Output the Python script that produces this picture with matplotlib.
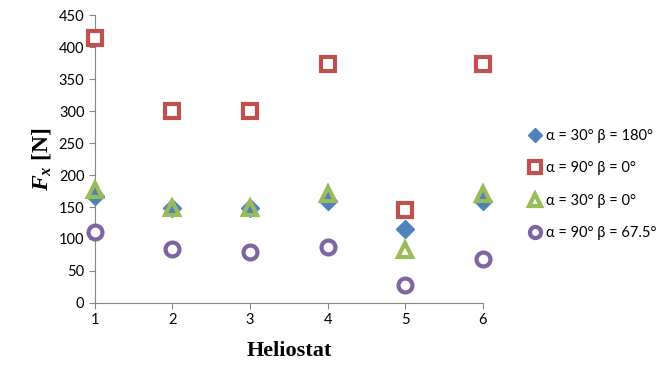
import numpy as np
import matplotlib.pyplot as plt

heliostat = [1, 2, 3, 4, 5, 6]
a30_b180 = [167, 148, 149, 160, 116, 160]
a90_b0 = [414, 300, 300, 373, 145, 373]
a30_b0 = [177, 148, 148, 170, 83, 170]
a90_b675 = [111, 84, 80, 88, 28, 69]
labels = ['α = 30° β = 180°', 'α = 90° β = 0°', 'α = 30° β = 0°', 'α = 90° β = 67.5°']

plt.rcParams['mathtext.fontset'] = 'custom'
plt.rcParams['mathtext.it'] = 'Liberation Serif:italic:bold'
plt.rcParams['mathtext.rm'] = 'Liberation Serif:bold'

fig = plt.figure(figsize=(6.68, 3.69), dpi=100)
ax = fig.add_axes([0.142, 0.179, 0.581, 0.78])

ax.plot(heliostat, a30_b180, 'D', ms=9, color='#4F81BD', mec='#4F81BD', label=labels[0], zorder=3)
ax.plot(heliostat, a90_b0, 's', ms=10, mfc='white', mec='#C0504D', mew=3, label=labels[1], zorder=3)
ax.plot(heliostat, a30_b0, '^', ms=10, mfc='none', mec='#9BBB59', mew=3, label=labels[2], zorder=4)
ax.plot(heliostat, a90_b675, 'o', ms=10, mfc='white', mec='#8064A2', mew=3, label=labels[3], zorder=3)

ax.set_xlim(1, 6)
ax.set_ylim(0, 450)
ax.set_yticks(np.arange(0, 451, 50))
ax.set_xticks(heliostat)
for s in ['top', 'right']:
    ax.spines[s].set_visible(False)
for s in ['left', 'bottom']:
    ax.spines[s].set_color('#868686')
    ax.spines[s].set_clip_on(False)
ax.tick_params(colors='#868686', labelcolor='black', labelsize=10.5, length=4)
for t in ax.get_xticklabels() + ax.get_yticklabels():
    t.set_fontfamily('Lato')
for l in ax.lines:
    l.set_clip_on(False)

ax.set_xlabel('Heliostat', fontfamily='Liberation Serif', fontweight='bold', fontsize=16, labelpad=10)
ax.set_ylabel(r'$F_x$ [N]', fontfamily='Liberation Serif', fontweight='bold', fontsize=17, labelpad=4)

leg = fig.legend(loc='center left', bbox_to_anchor=(0.77, 0.5), frameon=False,
                 prop={'family': 'Lato', 'size': 10.5}, handletextpad=0.25,
                 labelspacing=1.25, markerscale=0.8, handlelength=1.0)

fig.savefig('out.png', dpi=100)
